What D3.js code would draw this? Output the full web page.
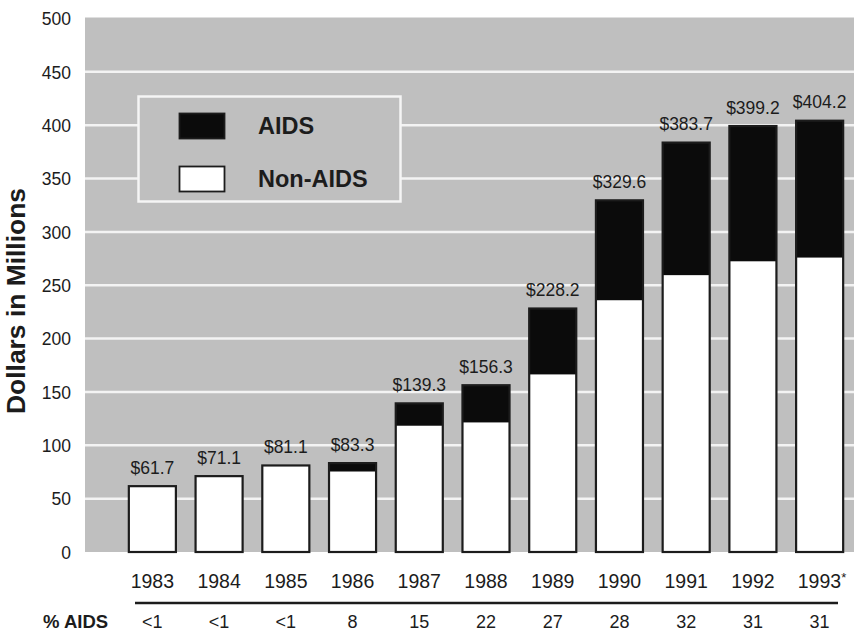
<!DOCTYPE html>
<html>
<head>
<meta charset="utf-8">
<script src="https://cdn.jsdelivr.net/npm/d3@7/dist/d3.min.js"></script>
<style>
  html, body { margin: 0; padding: 0; background: #fff; }
  svg { display: block; font-family: "Liberation Sans", Arial, Helvetica, sans-serif; }
</style>
</head>
<body>
<svg id="chart" width="854" height="641"></svg>
<script>
// Annual funding, millions of dollars
const years = ["1983", "1984", "1985", "1986", "1987", "1988", "1989", "1990", "1991", "1992", "1993*"];
const totals = [61.7, 71.1, 81.1, 83.3, 139.3, 156.3, 228.2, 329.6, 383.7, 399.2, 404.2];
const nonAids = [61.5, 70.9, 80.9, 75.5, 118.4, 121.5, 166.5, 236, 259.5, 272.5, 276];
const pctAids = ["<1", "<1", "<1", "8", "15", "22", "27", "28", "32", "31", "31"];
const yTicks = [0, 50, 100, 150, 200, 250, 300, 350, 400, 450, 500];
const legendItems = [
  { label: "AIDS", fill: "#0b0b0b" },
  { label: "Non-AIDS", fill: "#ffffff" }
];

const svg = d3.select("#chart");
const plot = { left: 85, right: 854, top: 17.5, bottom: 552 };
const bgGray = "#bfbfbf";
const ink = "#1c1c1c";

const x = d3.scaleBand()
  .domain(years)
  .range([119, 853])
  .paddingInner(0.265)
  .paddingOuter(0.1325);

const y = d3.scaleLinear().domain([0, 500]).range([552, 18.5]);

// shaded panel
svg.append("rect")
  .attr("x", plot.left).attr("y", plot.top)
  .attr("width", plot.right - plot.left).attr("height", plot.bottom - plot.top)
  .attr("fill", bgGray);

// white gridlines
svg.append("g")
  .selectAll("line")
  .data(yTicks.filter(d => d > 0 && d < 500))
  .join("line")
  .attr("x1", plot.left).attr("x2", plot.right)
  .attr("y1", d => y(d)).attr("y2", d => y(d))
  .attr("stroke", "#f3f3f3").attr("stroke-width", 2.5);

// y axis tick labels
const yAxis = d3.axisLeft(y).tickValues(yTicks).tickSize(0).tickPadding(0);
const yg = svg.append("g").attr("transform", "translate(71,0)").call(yAxis);
yg.select(".domain").remove();
yg.selectAll("text")
  .attr("font-family", "'Liberation Sans', Arial, sans-serif")
  .attr("font-size", 17.5)
  .attr("fill", ink)
  .attr("dy", "0.36em");

// y axis title
svg.append("text")
  .attr("transform", "translate(25,301) rotate(-90)")
  .attr("text-anchor", "middle")
  .attr("font-size", 25)
  .attr("font-weight", "bold")
  .attr("textLength", 226)
  .attr("lengthAdjust", "spacingAndGlyphs")
  .attr("fill", ink)
  .text("Dollars in Millions");

// legend (opaque panel covers the gridlines)
const lg = svg.append("g");
lg.append("rect")
  .attr("x", 138.5).attr("y", 96.5).attr("width", 262).attr("height", 105)
  .attr("fill", bgGray).attr("stroke", "#f5f5f5").attr("stroke-width", 2.5);
legendItems.forEach((it, i) => {
  const ty = 113 + i * 53;
  lg.append("rect")
    .attr("x", 179.5).attr("y", ty + 0.5).attr("width", 45).attr("height", 25)
    .attr("fill", it.fill).attr("stroke", ink).attr("stroke-width", 1.8);
  lg.append("text")
    .attr("x", 258).attr("y", ty + 21)
    .attr("font-size", 23.5).attr("font-weight", "bold").attr("fill", ink)
    .text(it.label);
});

// stacked bars
const bars = svg.append("g");
years.forEach((yr, i) => {
  const x0 = x(yr), w = x.bandwidth();
  // non-AIDS segment
  bars.append("rect")
    .attr("x", x0 + 1).attr("y", y(nonAids[i]))
    .attr("width", w - 2).attr("height", y(0) - y(nonAids[i]))
    .attr("fill", "#ffffff");
  // AIDS segment
  bars.append("rect")
    .attr("x", x0 + 1).attr("y", y(totals[i]))
    .attr("width", w - 2).attr("height", y(nonAids[i]) - y(totals[i]))
    .attr("fill", "#0b0b0b");
  // outline
  bars.append("rect")
    .attr("x", x0 + 1).attr("y", y(totals[i]))
    .attr("width", w - 2).attr("height", y(0) - y(totals[i]))
    .attr("fill", "none").attr("stroke", ink).attr("stroke-width", 2.2);
  // total label
  bars.append("text")
    .attr("x", x0 + w / 2).attr("y", y(totals[i]) - 12.5)
    .attr("text-anchor", "middle")
    .attr("font-size", 17.5).attr("fill", ink)
    .text("$" + totals[i].toFixed(1));
});

// year labels; a trailing asterisk is set small and raised
const xAxis = d3.axisBottom(x).tickSize(0).tickPadding(0);
const xg = svg.append("g").attr("transform", "translate(0,574)").call(xAxis);
xg.select(".domain").remove();
xg.selectAll("text")
  .attr("font-family", "'Liberation Sans', Arial, sans-serif")
  .attr("font-size", 19.5)
  .attr("fill", ink)
  .attr("dy", "0.71em")
  .each(function (d) {
    if (d.endsWith("*")) {
      const t = d3.select(this).text(d.slice(0, -1)).attr("dx", "0.12em");
      t.append("tspan").attr("font-size", 13).attr("dy", "-0.45em").text("*");
    }
  });

// rule under year labels
svg.append("line")
  .attr("x1", 135).attr("x2", 838)
  .attr("y1", 603).attr("y2", 603)
  .attr("stroke", ink).attr("stroke-width", 2.5);

// % AIDS row
svg.append("text")
  .attr("x", 43).attr("y", 628)
  .attr("font-size", 18.5).attr("font-weight", "bold").attr("fill", ink)
  .text("% AIDS");
svg.append("g")
  .selectAll("text")
  .data(pctAids)
  .join("text")
  .attr("x", (d, i) => x(years[i]) + x.bandwidth() / 2)
  .attr("y", 628)
  .attr("text-anchor", "middle")
  .attr("font-size", 18).attr("fill", ink)
  .text(d => d);
</script>
</body>
</html>
